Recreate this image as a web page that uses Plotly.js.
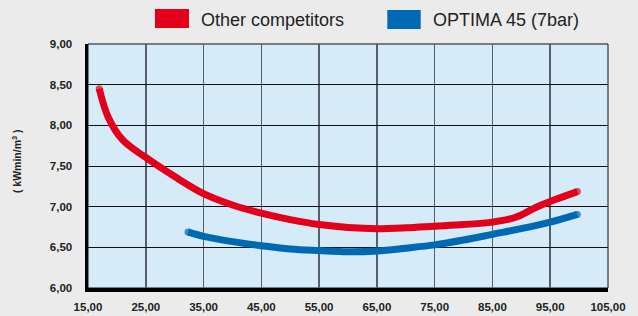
<!DOCTYPE html>
<html>
<head>
<meta charset="utf-8">
<script src="https://cdn.plot.ly/plotly-3.0.1.min.js"></script>
<style>html,body{margin:0;padding:0;background:#ebebeb;}#chart{width:638px;height:316px;}</style>
</head>
<body>
<div id="chart"></div>
<script>
// Data
const seriesNames = ["Other competitors", "OPTIMA 45 (7bar)"];
const compX = [16.95, 18.5, 21, 25, 30, 35, 40, 45, 50, 55, 60, 65, 70, 75, 80, 85, 89, 92.5, 96, 99.7];
const compY = [8.45, 8.10, 7.82, 7.605, 7.37, 7.16, 7.02, 6.92, 6.84, 6.78, 6.745, 6.73, 6.74, 6.76, 6.78, 6.81, 6.87, 6.99, 7.09, 7.185];
const optX = [32.3, 35, 40, 45, 50, 55, 60, 65, 70, 75, 80, 85, 90, 95, 99.7];
const optY = [6.69, 6.635, 6.57, 6.52, 6.48, 6.46, 6.445, 6.455, 6.49, 6.53, 6.59, 6.66, 6.73, 6.81, 6.905];
const xTicks = [15, 25, 35, 45, 55, 65, 75, 85, 95, 105];
const yTicks = [6.0, 6.5, 7.0, 7.5, 8.0, 8.5, 9.0];
const yTitle = "( kWmin/m<sup>3</sup> )";
const colors = ["#e2001a", "#0069b4"];

const sans = "'Liberation Sans', Arial, sans-serif";
const capSizes = arr => arr.map((_, i) => (i === 0 || i === arr.length - 1) ? 7 : 0);

const traces = [
  {x: compX, y: compY, name: seriesNames[0], mode: "lines+markers",
   marker: {color: colors[0], size: capSizes(compX), line: {width: 0}},
   line: {color: colors[0], width: 7, shape: "spline", smoothing: 1}},
  {x: optX, y: optY, name: seriesNames[1], mode: "lines+markers",
   marker: {color: colors[1], size: capSizes(optX), line: {width: 0}},
   line: {color: colors[1], width: 7, shape: "spline", smoothing: 1}}
];

const legendShapes = [
  {type: "rect", xref: "paper", yref: "paper", x0: 0.1288, x1: 0.1942, y0: 1.0656, y1: 1.1434,
   fillcolor: colors[0], line: {width: 0}},
  {type: "rect", xref: "paper", yref: "paper", x0: 0.5756, x1: 0.6398, y0: 1.0615, y1: 1.139,
   fillcolor: colors[1], line: {width: 0}},
  {type: "rect", xref: "paper", yref: "paper", x0: 0, x1: 1, y0: 0, y1: 1,
   line: {color: "#111", width: 1}, layer: "below"}
];

const layout = {
  width: 638, height: 316,
  paper_bgcolor: "#ebebeb", plot_bgcolor: "#d5ebf8",
  margin: {l: 88, r: 30, t: 44, b: 28},
  separators: ",.",
  showlegend: false,
  font: {family: sans, color: "#222"},
  xaxis: {
    range: [15, 105], tickvals: xTicks, tickformat: ".2f",
    showgrid: true, gridcolor: "#56606a", gridwidth: 1.5,
    showline: true, linecolor: "#000", linewidth: 3.5,
    ticks: "outside", ticklen: 6, tickcolor: "rgba(0,0,0,0)", zeroline: false, fixedrange: true,
    tickfont: {family: sans, size: 11.5, color: "#222", weight: "bold"}
  },
  yaxis: {
    range: [6, 9], tickvals: yTicks, tickformat: ".2f",
    showgrid: true, gridcolor: "#111", gridwidth: 1,
    showline: true, linecolor: "#000", linewidth: 3.5,
    ticks: "outside", ticklen: 10, tickcolor: "rgba(0,0,0,0)", zeroline: false, fixedrange: true,
    tickfont: {family: sans, size: 11.5, color: "#222", weight: "bold"}
  },
  shapes: legendShapes,
  annotations: [
    {xref: "paper", yref: "paper", x: 0.2135, y: 1.10, xanchor: "left", yanchor: "middle",
     text: seriesNames[0], showarrow: false, font: {family: sans, size: 18, color: "#222"}},
    {xref: "paper", yref: "paper", x: 0.6595, y: 1.10, xanchor: "left", yanchor: "middle",
     text: seriesNames[1], showarrow: false, font: {family: sans, size: 18, color: "#222"}},
    {xref: "paper", yref: "paper", x: -0.1385, y: 0.52, xanchor: "center", yanchor: "middle",
     textangle: -90, text: yTitle, showarrow: false,
     font: {family: sans, size: 10.5, color: "#222", weight: "bold"}}
  ]
};

Plotly.newPlot("chart", traces, layout, {displayModeBar: false, staticPlot: true});
</script>
</body>
</html>
